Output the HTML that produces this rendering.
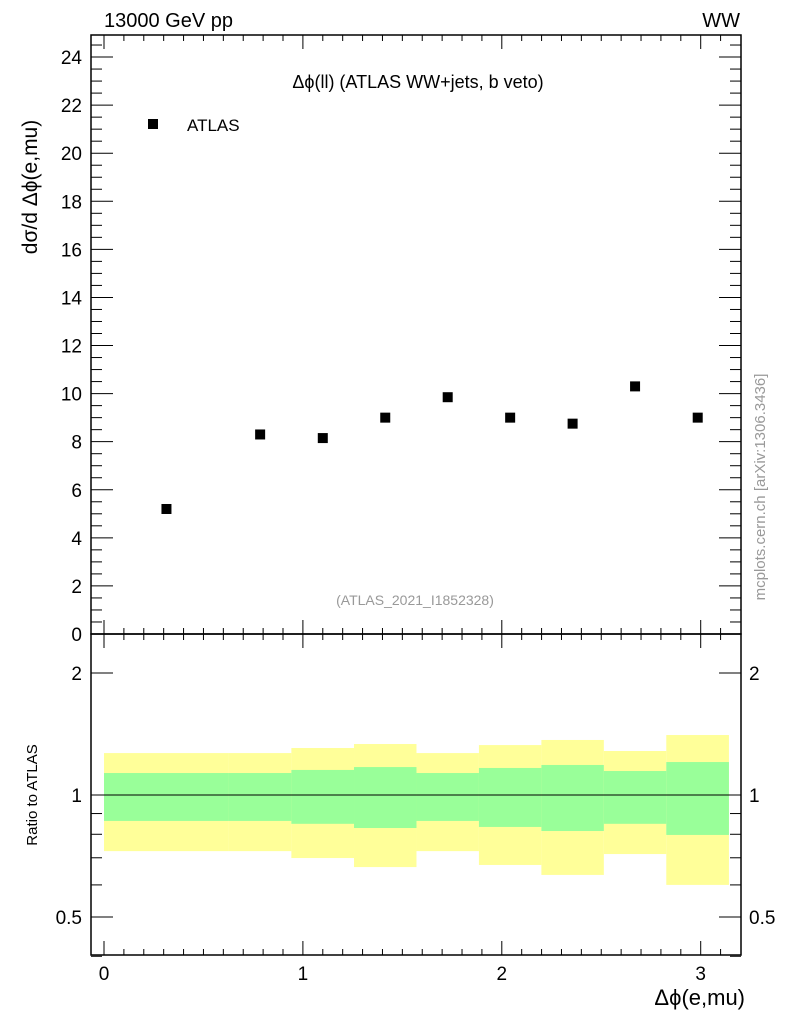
<!DOCTYPE html>
<html><head><meta charset="utf-8"><style>
body{margin:0;background:#fff;font-family:"Liberation Sans",sans-serif}
svg{display:block}
</style></head><body>
<svg id="c" width="786" height="1024" xmlns="http://www.w3.org/2000/svg"></svg>
<script>
const xCenters=[0.314,0.785,1.1,1.414,1.728,2.042,2.356,2.67,2.985];
const yValues=[5.2,8.3,8.15,9.0,9.85,9.0,8.75,10.3,9.0];
const binEdges=[0,0.628,0.942,1.257,1.571,1.885,2.199,2.513,2.827,3.142];
const yellowHi=[1.269,1.269,1.306,1.336,1.269,1.328,1.367,1.284,1.406];
const yellowLo=[0.727,0.727,0.699,0.664,0.727,0.672,0.635,0.715,0.600];
const greenHi=[1.133,1.133,1.153,1.172,1.133,1.166,1.186,1.146,1.206];
const greenLo=[0.863,0.863,0.849,0.829,0.863,0.834,0.815,0.849,0.797];
const yTicks=[0,2,4,6,8,10,12,14,16,18,20,22,24];
const xTicks=[0,1,2,3];
const rTicks=[0.5,1,2];

const L=91,R=741,T=35,M=634,B=955;
const X=v=>104+v*198.9;
const Y=v=>634-v*24.04;
const RY=v=>795-Math.log2(v)*122;
const svg=document.getElementById('c');
const NS='http://www.w3.org/2000/svg';
function mk(tag,attrs,name,text){const e=document.createElementNS(NS,tag);for(const k in attrs)e.setAttribute(k,attrs[k]);


if(text!==undefined)e.textContent=text;svg.appendChild(e);return e;}

for(let i=0;i<yValues.length;i++){
 mk('rect',{x:X(binEdges[i]),y:RY(yellowHi[i]),width:X(binEdges[i+1])-X(binEdges[i]),height:RY(yellowLo[i])-RY(yellowHi[i]),fill:'#ffff99'},'yellow-band');
}
for(let i=0;i<yValues.length;i++){
 mk('rect',{x:X(binEdges[i]),y:RY(greenHi[i]),width:X(binEdges[i+1])-X(binEdges[i]),height:RY(greenLo[i])-RY(greenHi[i]),fill:'#99ff99'},'green-band');
}
mk('line',{x1:X(0),x2:X(3.142),y1:RY(1),y2:RY(1),stroke:'#000','stroke-width':1},'ratio-reference-line');

mk('rect',{x:L,y:T,width:R-L,height:M-T,fill:'none',stroke:'#000','stroke-width':1.5},'main-frame');
mk('rect',{x:L,y:M,width:R-L,height:B-M,fill:'none',stroke:'#000','stroke-width':1.5},'ratio-frame');

for(let v=0;v<=24.9;v+=0.5){const maj=Math.abs(v%2)<1e-6;const len=maj?22:11;
 mk('line',{x1:L,x2:L+len,y1:Y(v),y2:Y(v),stroke:'#000','stroke-width':1},'y-tick');
 mk('line',{x1:R,x2:R-len,y1:Y(v),y2:Y(v),stroke:'#000','stroke-width':1},'y-tick');}
yTicks.forEach(v=>mk('text',{x:L-9,y:Y(v)+7,'text-anchor':'end','font-size':19},'y-tick-label',v));

for(let v=0;v<=3.2;v+=0.1){const maj=Math.abs(v-Math.round(v))<1e-6;const len=maj?14:6;
 [T,M].forEach(y0=>mk('line',{x1:X(v),x2:X(v),y1:y0,y2:y0+len,stroke:'#000','stroke-width':1},'x-tick'));
 [M,B].forEach(y0=>mk('line',{x1:X(v),x2:X(v),y1:y0,y2:y0-len,stroke:'#000','stroke-width':1},'x-tick'));}
xTicks.forEach(v=>mk('text',{x:X(v),y:980,'text-anchor':'middle','font-size':19},'x-tick-label',v));

[0.4,0.5,0.6,0.7,0.8,0.9,1,2].forEach(v=>{const maj=rTicks.includes(v);const len=maj?22:11;
 mk('line',{x1:L,x2:L+len,y1:RY(v),y2:RY(v),stroke:'#000','stroke-width':1},'ratio-tick');
 mk('line',{x1:R,x2:R-len,y1:RY(v),y2:RY(v),stroke:'#000','stroke-width':1},'ratio-tick');});
rTicks.forEach(v=>{
 mk('text',{x:L-9,y:RY(v)+7,'text-anchor':'end','font-size':19},'ratio-tick-label',v);
 mk('text',{x:R+8,y:RY(v)+7,'text-anchor':'start','font-size':19},'ratio-tick-label-right',v);});

for(let i=0;i<yValues.length;i++){
 mk('rect',{x:X(xCenters[i])-5,y:Y(yValues[i])-5,width:10,height:10,fill:'#000'},'data-point');
}

mk('text',{x:104,y:27,'font-size':20},'energy-label','13000 GeV pp');
mk('text',{x:740,y:27,'text-anchor':'end','font-size':20},'process-label','WW');
mk('text',{x:418,y:88,'text-anchor':'middle','font-size':18},'plot-title','Δϕ(ll) (ATLAS WW+jets, b veto)');
mk('rect',{x:148,y:119,width:10,height:10,fill:'#000'},'legend-marker');
mk('text',{x:187,y:131,'font-size':17},'legend-label','ATLAS');
mk('text',{x:415,y:605,'text-anchor':'middle','font-size':14,fill:'#999'},'analysis-id','(ATLAS_2021_I1852328)');
mk('text',{x:745,y:1005,'text-anchor':'end','font-size':22},'x-axis-title','Δϕ(e,mu)');
mk('text',{x:0,y:0,'font-size':21,transform:'translate(37,187) rotate(-90)','text-anchor':'middle'},'y-axis-title','dσ/d Δϕ(e,mu)');
mk('text',{x:0,y:0,'font-size':15,transform:'translate(37,795) rotate(-90)','text-anchor':'middle'},'ratio-axis-title','Ratio to ATLAS');
mk('text',{x:0,y:0,'font-size':15,fill:'#999',transform:'translate(765,487) rotate(-90)','text-anchor':'middle'},'watermark','mcplots.cern.ch [arXiv:1306.3436]');
</script>
</body></html>
